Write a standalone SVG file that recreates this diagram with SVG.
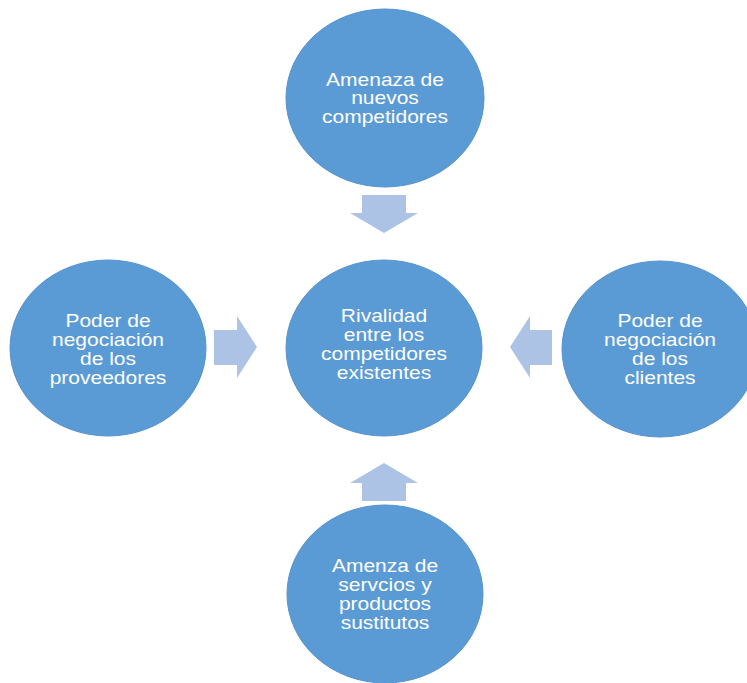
<svg xmlns="http://www.w3.org/2000/svg" width="747" height="683" viewBox="0 0 747 683">
<style>
.node{fill:#5b9bd5;stroke:#5592cf;stroke-width:1}
.arrow{fill:#adc3e6}
.lbl{font-family:"Liberation Sans",Arial,sans-serif;font-size:17.5px;fill:#ffffff;text-anchor:middle}
</style>
<rect width="747" height="683" fill="#ffffff"/>
<g id="connectors">
  <polygon class="arrow" points="362,195 406,195 406,213 418,213 384,233 350,213 362,213"/>
  <polygon class="arrow" points="384,463 418,483 406,483 406,501 362,501 362,483 350,483"/>
  <polygon class="arrow" points="214,330 237,330 237,316 257,347 237,378 237,365 214,365"/>
  <polygon class="arrow" points="552,330 530,330 530,316 510,347 530,378 530,365 552,365"/>
</g>
<g id="node-top">
  <ellipse class="node" cx="385" cy="98" rx="99" ry="89"/>
  <text class="lbl" transform="translate(385 0) scale(1.2 1)"><tspan x="0" y="86">Amenaza de</tspan><tspan x="0" y="104.5">nuevos</tspan><tspan x="0" y="123">competidores</tspan></text>
</g>
<g id="node-center">
  <ellipse class="node" cx="384" cy="348" rx="98" ry="88"/>
  <text class="lbl" transform="translate(384 0) scale(1.2 1)"><tspan x="0" y="322">Rivalidad</tspan><tspan x="0" y="341">entre los</tspan><tspan x="0" y="360">competidores</tspan><tspan x="0" y="379">existentes</tspan></text>
</g>
<g id="node-left">
  <ellipse class="node" cx="108" cy="348" rx="98" ry="88"/>
  <text class="lbl" transform="translate(108 0) scale(1.2 1)"><tspan x="0" y="327">Poder de</tspan><tspan x="0" y="346">negociación</tspan><tspan x="0" y="365">de los</tspan><tspan x="0" y="384">proveedores</tspan></text>
</g>
<g id="node-right">
  <ellipse class="node" cx="660" cy="349" rx="98" ry="88"/>
  <text class="lbl" transform="translate(660 0) scale(1.2 1)"><tspan x="0" y="327">Poder de</tspan><tspan x="0" y="346">negociación</tspan><tspan x="0" y="365">de los</tspan><tspan x="0" y="384">clientes</tspan></text>
</g>
<g id="node-bottom">
  <ellipse class="node" cx="385" cy="594" rx="98" ry="89"/>
  <text class="lbl" transform="translate(385 0) scale(1.2 1)"><tspan x="0" y="572">Amenza de</tspan><tspan x="0" y="591">servcios y</tspan><tspan x="0" y="610">productos</tspan><tspan x="0" y="629">sustitutos</tspan></text>
</g>
</svg>
